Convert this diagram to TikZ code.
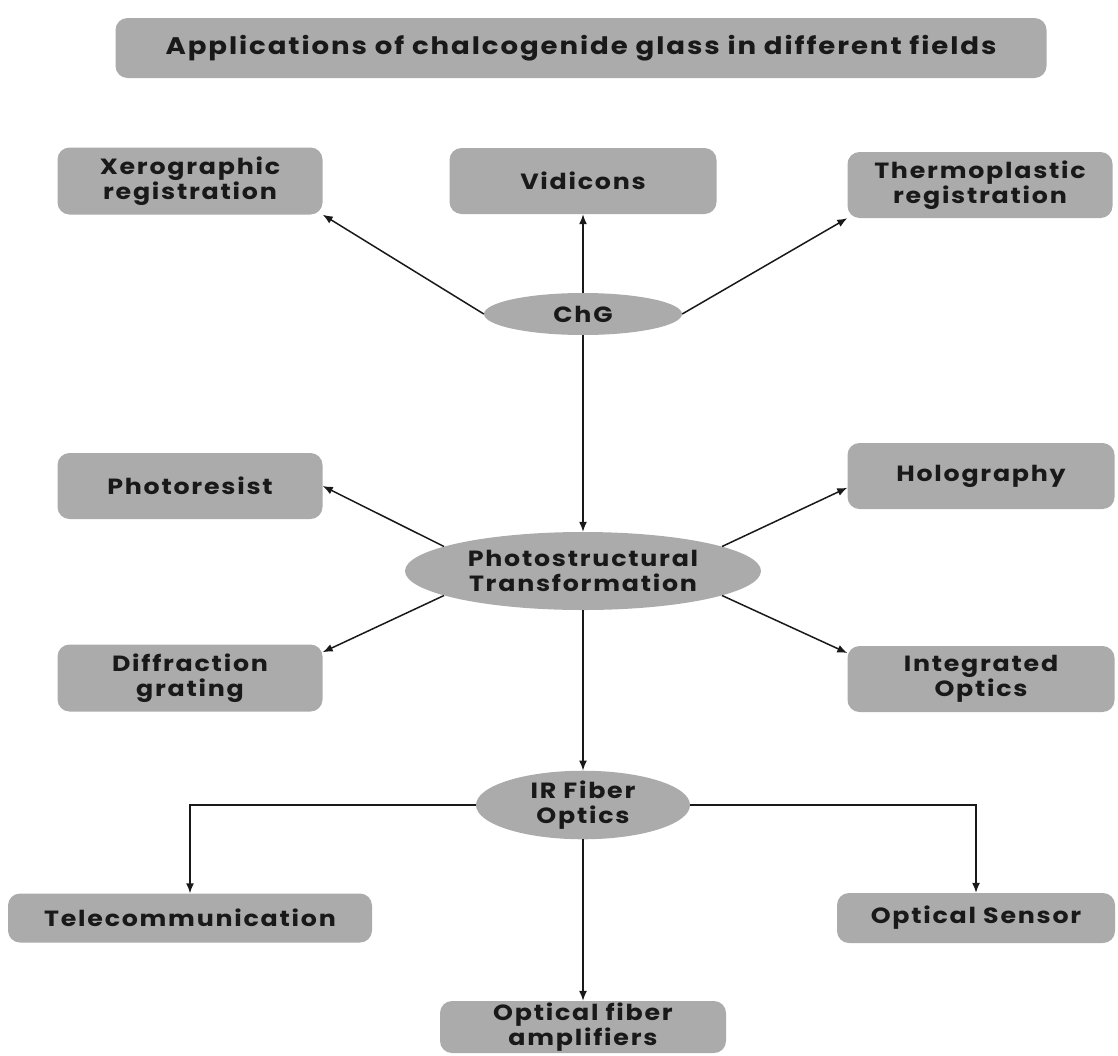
\documentclass[tikz,border=0pt]{standalone}
\usepackage{fontspec}
\setmainfont{Poppins}[FakeStretch=1.15,LetterSpace=8]
\usetikzlibrary{shapes.geometric,arrows.meta}
\colorlet{boxgray}{black!33}
\colorlet{ink}{black!90}
\tikzset{>={Latex[length=10pt,width=8pt]}}
\tikzset{
  field/.style = {fill=boxgray, rounded corners=12pt, align=center, inner sep=0pt,
    text=ink, font=\fontsize{22}{25}\selectfont\bfseries},
  hub/.style = {ellipse, fill=boxgray, align=center, inner sep=0pt,
    text=ink, font=\fontsize{22}{25}\selectfont\bfseries},
  link/.style = {->, line width=1.5pt, draw=ink}
}

\begin{document}
\begin{tikzpicture}[x=1pt,y=-1pt]
  \useasboundingbox (0,0) rectangle (1118,1055);
  \clip (0,0) rectangle (1118,1055);
  % title
  \node[field, minimum width=931pt, minimum height=60pt,
    font=\fontsize{24}{26}\selectfont\bfseries] (title) at (581,48)
    {Applications of chalcogenide glass in different fields};
  % first level
  \node[field, minimum width=265pt, minimum height=67pt] (xero) at (190,181)
    {Xerographic\\registration};
  \node[field, minimum width=267pt, minimum height=66pt] (vid) at (583,181) {Vidicons};
  \node[field, minimum width=265pt, minimum height=66pt] (thermo) at (980,185)
    {Thermoplastic\\registration};
  \node[hub, minimum width=198pt, minimum height=42pt] (chg) at (583,314) {ChG};
  % second level
  \node[field, minimum width=265pt, minimum height=66pt] (photores) at (190,486) {Photoresist};
  \node[field, minimum width=267pt, minimum height=66pt] (holo) at (981,476) {Holography};
  \node[hub, minimum width=356pt, minimum height=78pt] (photo) at (583,571)
    {Photostructural\\Transformation};
  \node[field, minimum width=265pt, minimum height=67pt] (diff) at (190,678)
    {Diffraction\\grating};
  \node[field, minimum width=267pt, minimum height=66pt] (integ) at (981,679)
    {Integrated\\Optics};
  % fiber optics
  \node[hub, minimum width=214pt, minimum height=61pt] (ir) at (583,805)
    {IR Fiber\\Optics};
  \node[field, minimum width=364pt, minimum height=49pt] (telecom) at (190,918)
    {Telecommunication};
  \node[field, minimum width=278pt, minimum height=50pt] (sensor) at (976,918)
    {Optical Sensor};
  \node[field, minimum width=286pt, minimum height=52pt] (amp) at (583,1027)
    {Optical fiber\\amplifiers};
  % connectors
  \draw[link] (chg.west) -- (xero.south east);
  \draw[link] (chg.north) -- (vid.south);
  \draw[link] (chg.east) -- (thermo.south west);
  \draw[link] (chg.south) -- (photo.north);
  \draw[link] (photo.170) -- (photores.east);
  \draw[link] (photo.10) -- (holo.185);
  \draw[link] (photo.190) -- (diff.11);
  \draw[link] (photo.-10) -- (integ.169);
  \draw[link] (photo.south) -- (ir.north);
  \draw[link] (ir.west) -| (telecom.north);
  \draw[link] (ir.east) -| (sensor.north);
  \draw[link] (ir.south) -- (amp.north);
\end{tikzpicture}
\end{document}
